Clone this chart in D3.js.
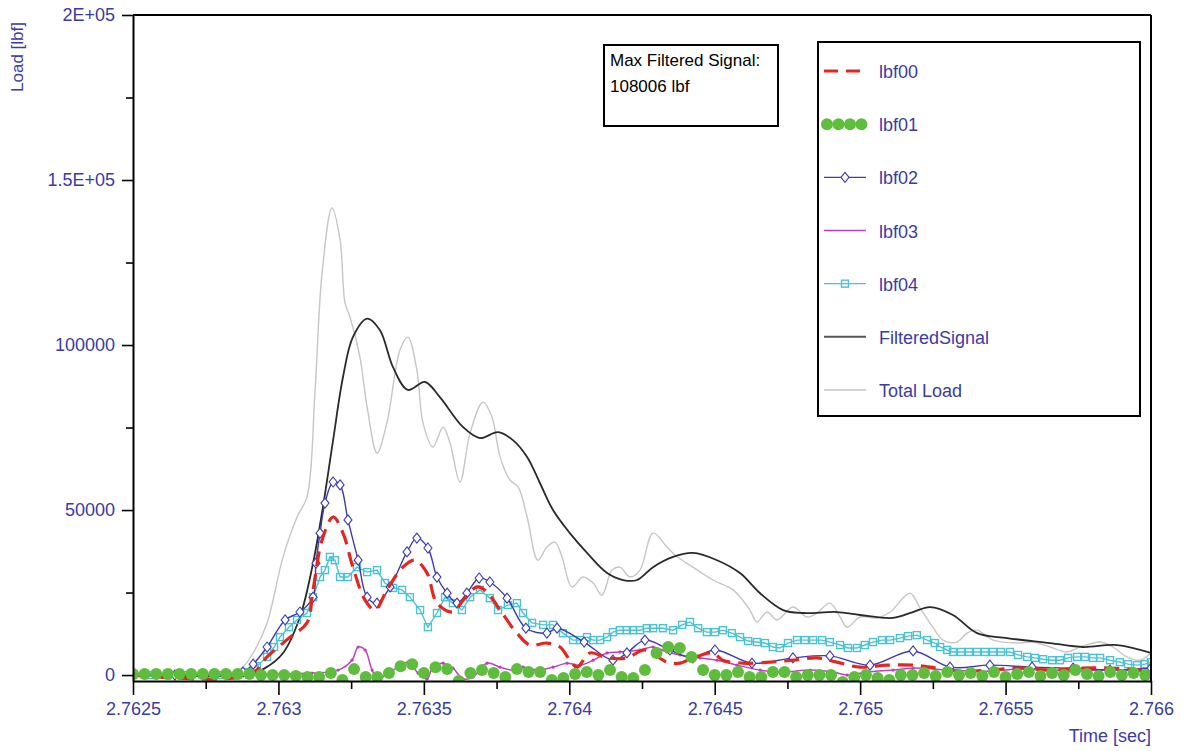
<!DOCTYPE html>
<html>
<head>
<meta charset="utf-8">
<script src="https://cdn.jsdelivr.net/npm/d3@7"></script>
<style>
body { margin: 0; background: #fff; }
svg { display: block; font-family: "Liberation Sans", Arial, sans-serif; }
</style>
</head>
<body>
<script>
// ---- data (time in sec, load in lbf) ----
var xTicks = [2.7625, 2.763, 2.7635, 2.764, 2.7645, 2.765, 2.7655, 2.766];
var xMinorTicks = [2.76275, 2.76325, 2.76375, 2.76425, 2.76475, 2.76525, 2.76575];
var yTicks = [0, 50000, 100000, 150000, 200000];
var yTickLabels = ["0", "50000", "100000", "1.5E+05", "2E+05"];
var yMinorTicks = [25000, 75000, 125000, 175000];

var seriesNames = ["lbf00", "lbf01", "lbf02", "lbf03", "lbf04", "FilteredSignal", "Total Load"];

var totalTime = [2.7625, 2.76280, 2.762844, 2.762878, 2.762919, 2.762961, 2.763016, 2.763064, 2.763098, 2.763126,
  2.763150, 2.763184, 2.763212, 2.763229, 2.763246, 2.763280, 2.763305, 2.763339, 2.763373, 2.763418,
  2.763445, 2.763476, 2.763497, 2.763531, 2.763566, 2.763590, 2.763624, 2.763659, 2.763703, 2.763734,
  2.763762, 2.763796, 2.763824, 2.763855, 2.763892, 2.763923, 2.763951, 2.763975, 2.764009, 2.764047,
  2.764082, 2.764112, 2.764147, 2.764174, 2.764209, 2.764243, 2.764288, 2.764336, 2.764363, 2.764425,
  2.764494, 2.764563, 2.764621, 2.764645, 2.764680, 2.764714, 2.764769, 2.764817, 2.764852, 2.764896,
  2.764931, 2.764955, 2.765000, 2.765058, 2.765103, 2.765171, 2.765206, 2.765250, 2.765285, 2.765333,
  2.765367, 2.765402, 2.765457, 2.765539, 2.765594, 2.765653, 2.765711, 2.765756, 2.765825, 2.765869,
  2.765917, 2.765962, 2.766];
var totalLoad = [0, 300, 900, 2400, 7600, 15800, 35800, 47900, 53900, 86400,
  121800, 141500, 131800, 112700, 108500, 96400, 81200, 67300, 76400, 98500,
  102400, 92400, 76400, 69100, 75100, 70300, 58500, 73300, 82700, 78200,
  66100, 59100, 57000, 47900, 34800, 38800, 40300, 35800, 26700, 29700,
  27900, 24200, 31800, 32700, 29700, 31800, 43000, 38800, 36400, 32700,
  28800, 25800, 19700, 16100, 19100, 16700, 20600, 17600, 18800, 21800,
  17600, 14500, 17600, 17300, 19100, 24800, 20300, 14500, 10600, 10000,
  12700, 13600, 10600, 9700, 10000, 8500, 7000, 8500, 10000, 8500,
  5500, 4500, 6700];

var filteredTime = [2.7625, 2.762902, 2.762954, 2.763016, 2.763074, 2.763119, 2.763153, 2.763188, 2.763222, 2.763256,
  2.763305, 2.763349, 2.763394, 2.763445, 2.763504, 2.763555, 2.763635, 2.763693, 2.763755, 2.763806,
  2.763855, 2.763899, 2.763944, 2.764002, 2.764061, 2.764130, 2.764185, 2.764233, 2.764288, 2.764357,
  2.764425, 2.764508, 2.764587, 2.764656, 2.764735, 2.764804, 2.764920, 2.765000, 2.765113, 2.765182,
  2.765240, 2.765319, 2.765402, 2.765505, 2.765653, 2.765766, 2.765883, 2.766];
var filteredSignal = [0, 300, 2100, 6700, 17600, 33900, 50900, 71200, 90300, 102400,
  108000, 104500, 93300, 86400, 88800, 84200, 75100, 71800, 73600, 71200,
  66100, 58200, 50000, 43000, 37000, 30900, 28800, 28800, 32700, 35800,
  37000, 34800, 30900, 24800, 19700, 18800, 19100, 18200, 17300, 19100,
  20600, 18200, 12700, 11200, 9700, 8500, 9100, 6700];

var lbf00Time = [2.7625, 2.762902, 2.762961, 2.763040, 2.763098, 2.763119, 2.763150, 2.763188, 2.763222, 2.763256,
  2.763298, 2.763332, 2.763373, 2.763428, 2.763470, 2.763511, 2.763545, 2.763600, 2.763635, 2.763683,
  2.763717, 2.763762, 2.763820, 2.763865, 2.763923, 2.763968, 2.764002, 2.764027, 2.764071, 2.764130,
  2.764198, 2.764260, 2.764336, 2.764381, 2.764425, 2.764494, 2.764528, 2.764597, 2.764690, 2.764769,
  2.764852, 2.764920, 2.765000, 2.765092, 2.765182, 2.765240, 2.765343, 2.765446, 2.765549, 2.765653,
  2.765756, 2.765859, 2.766];
var lbf00 = [0, 0, 5500, 11500, 15800, 25800, 40900, 47900, 43000, 32700,
  22700, 19700, 25800, 32700, 34800, 30900, 21800, 19100, 22700, 26700,
  25200, 19700, 12700, 9100, 9700, 8500, 4500, 2400, 6700, 5200,
  5200, 7600, 3900, 3600, 5200, 6700, 4500, 3600, 3900, 4500,
  5200, 3900, 2400, 3000, 3000, 2400, 1200, 1500, 2100, 1500,
  2100, 2100, 1200];

var lbf01Time = [2.76250, 2.76254, 2.76258, 2.76262, 2.76266, 2.76270, 2.76274, 2.76278, 2.76282, 2.76286,
  2.76290, 2.76294, 2.76298, 2.76302, 2.76306, 2.76310, 2.76314, 2.76318, 2.76322, 2.76326,
  2.76330, 2.76334, 2.76338, 2.76342, 2.76346, 2.76350, 2.76354, 2.76358, 2.76362, 2.76366,
  2.76370, 2.76374, 2.76378, 2.76382, 2.76386, 2.76390, 2.76394, 2.76398, 2.76402, 2.76406,
  2.76410, 2.76414, 2.76418, 2.76422, 2.76426, 2.76430, 2.76434, 2.76438, 2.76442, 2.76446,
  2.76450, 2.76454, 2.76458, 2.76462, 2.76466, 2.76470, 2.76474, 2.76478, 2.76482, 2.76486,
  2.76490, 2.76494, 2.76498, 2.76502, 2.76506, 2.76510, 2.76514, 2.76518, 2.76522, 2.76526,
  2.76530, 2.76534, 2.76538, 2.76542, 2.76546, 2.76550, 2.76554, 2.76558, 2.76562, 2.76566,
  2.76570, 2.76574, 2.76578, 2.76582, 2.76586, 2.76590, 2.76594, 2.76598];
var lbf01 = [300, 300, 300, 300, 300, 300, 300, 300, 300, 300,
  300, 0, 0, 0, -300, -600, -600, 600, -1500, 1800,
  -600, -600, 600, 2700, 3300, 600, 2400, 1800, -1800, 600,
  1500, 600, -600, 1800, 900, 900, -1500, -900, 300, 900,
  0, 1500, -600, -900, 1500, 6700, 8500, 8200, 5500, 1500,
  0, 0, 900, -600, -600, 900, 900, -600, 0, 0,
  0, -2100, -600, 0, -900, -1500, 0, 0, 600, -300,
  900, 0, 600, -300, 900, -600, 300, 900, -300, 600,
  0, 1500, 300, -300, 900, 0, 600, 0];

var lbf02Time = [2.7625, 2.762644, 2.762782, 2.762878, 2.762913, 2.762961, 2.763023, 2.763074, 2.763119, 2.763129,
  2.763143, 2.763160, 2.763188, 2.763212, 2.763239, 2.763274, 2.763305, 2.763339, 2.763384, 2.763442,
  2.763476, 2.763514, 2.763545, 2.763580, 2.763614, 2.763648, 2.763690, 2.763727, 2.763786, 2.763851,
  2.763923, 2.763958, 2.764051, 2.764150, 2.764198, 2.764260, 2.764346, 2.764425, 2.764501, 2.764628,
  2.764769, 2.764896, 2.765034, 2.765182, 2.765309, 2.765446, 2.765591, 2.765732, 2.765859, 2.766];
var lbf02 = [0, 0, 0, 900, 3300, 8500, 16700, 19100, 23600, 33900,
  43000, 52100, 58500, 57600, 47000, 34800, 23600, 21800, 26700, 37300,
  41500, 38500, 29700, 24800, 21800, 24800, 29400, 28200, 23300, 14200,
  12700, 14200, 10000, 4500, 6700, 10600, 7600, 5200, 7600, 3600,
  5200, 5800, 3000, 7300, 2400, 3000, 2400, 2100, 1500, 2100];

var lbf03Time = [2.7625, 2.762902, 2.763115, 2.763205, 2.763253, 2.763274, 2.763298, 2.763322, 2.763342, 2.763377,
  2.763411, 2.763445, 2.763480, 2.763511, 2.763531, 2.763566, 2.763600, 2.763635, 2.763669, 2.763717,
  2.763762, 2.763806, 2.763841, 2.763889, 2.763944, 2.763992, 2.764037, 2.764082, 2.764130, 2.764174,
  2.764243, 2.764288, 2.764336, 2.764381, 2.764449, 2.764508, 2.764577, 2.764656, 2.764735, 2.764828,
  2.764907, 2.764955, 2.765024, 2.765113, 2.765182, 2.765309, 2.765446, 2.765584, 2.765722, 2.765859,
  2.766];
var lbf03 = [300, 300, 600, 1500, 4500, 8500, 7600, 1500, -1200, 600,
  2400, 3900, 600, -1200, 2400, 3600, 2100, -1200, -600, 3600,
  2400, 1500, 2400, 1500, 2400, 3600, 3000, 4500, 6700, 7000,
  7600, 8500, 7000, 6100, 5200, 4500, 3000, 1500, 900, 1500,
  900, 0, 900, 1500, 2100, 1500, 1200, 2100, 1200, 1500,
  900];

var lbf04Time = [2.7625, 2.76256, 2.76262, 2.76268, 2.76274, 2.76280, 2.76286, 2.762895, 2.762926, 2.762961,
  2.762985, 2.763005, 2.763036, 2.763064, 2.763098, 2.763119, 2.763143, 2.763160, 2.763177, 2.763194,
  2.763212, 2.763239, 2.763270, 2.763305, 2.763339, 2.763366, 2.763394, 2.763425, 2.763452, 2.763487,
  2.763514, 2.763545, 2.763573, 2.763600, 2.763631, 2.763659, 2.763693, 2.763727, 2.763755, 2.763789,
  2.763820, 2.763841, 2.763872, 2.763910, 2.763944, 2.763978,
  2.764013, 2.764037, 2.764061, 2.764082, 2.764106, 2.764130, 2.764150, 2.764174, 2.764198, 2.764219,
  2.764243, 2.764267, 2.764288,
  2.764322, 2.764357, 2.764388, 2.764415, 2.764443, 2.764473, 2.764501, 2.764528, 2.764559, 2.764587,
  2.764615, 2.764645, 2.764673, 2.764700, 2.764724, 2.764752, 2.764783, 2.764810, 2.764838, 2.764869,
  2.764896, 2.764931, 2.764958, 2.764989, 2.765016, 2.765044, 2.765075, 2.765103, 2.765137, 2.765165,
  2.765195,
  2.765230, 2.765257, 2.765275, 2.765299, 2.765319, 2.765347, 2.765374, 2.765402, 2.765429, 2.765457,
  2.765484, 2.765515, 2.765543, 2.765574, 2.765601, 2.765629, 2.765660, 2.765687, 2.765715, 2.765746,
  2.765773, 2.765801, 2.765825, 2.765859, 2.765893, 2.765921, 2.765952, 2.765979, 2.766];
var lbf04 = [0, 0, 0, 0, 0, 0, 0, 900, 2700, 5500,
  8500, 11500, 14500, 16700, 18800, 23600, 29700, 31800, 35800, 34800,
  29700, 29700, 32700, 31200, 31800, 27900, 26400, 25800, 23600, 19700,
  14500, 18800, 23600, 21800, 19700, 23600, 25800, 23300, 19700, 21200,
  21800, 18800, 15800, 15200, 15200, 12700,
  10600, 10600, 11500, 10600, 10600, 11500, 13000, 13600, 13600, 13600,
  13600, 14200, 14200,
  14200, 13600, 15200, 16100, 14200, 13000, 13000, 13600, 12700, 11500,
  10300, 10000, 9700, 8500, 8200, 9700, 10600, 10600, 10600, 10600,
  10000, 9100, 8200, 8200, 9100, 10000, 10600, 10600, 11200, 11800,
  12100,
  10600, 9700, 8500, 7600, 7000, 7000, 7000, 7000, 7000, 7000,
  7000, 7000, 6100, 5500, 5200, 4800, 4500, 4500, 5200, 5500,
  5500, 5200, 5200, 4500, 3900, 3300, 3000, 3300, 3900];

var maxFiltered = 108006;

// ---- layout ----
var W = 1187, H = 751;
var mLeft = 133, mRight = 1151, mTop = 15, mBottom = 681;
var blue = "#3b3ba6";

var colors = {
	lbf00: "#e5261f",
	lbf01: "#5fbd3e",
	lbf02: "#3c3cb4",
	lbf03: "#c23fc0",
	lbf04: "#4cc3d4",
	filtered: "#2a2a2a",
	total: "#c6c6c6"
};

function pts(ts, vs) {
	var n = Math.min(ts.length, vs.length);
	var out = [];
	for (var i = 0; i < n; i++) out.push({t: ts[i], v: vs[i]});
	return out;
}

var svg = d3.select("body").append("svg")
	.attr("width", W)
	.attr("height", H);

var x = d3.scaleLinear().domain([2.7625, 2.766]).range([mLeft, mRight]);
var y = d3.scaleLinear().domain([-1800, 200000]).range([mBottom, mTop]);

svg.append("clipPath").attr("id", "clip")
	.append("rect").attr("x", mLeft).attr("y", mTop)
	.attr("width", mRight - mLeft).attr("height", mBottom - mTop);

var plot = svg.append("g").attr("clip-path", "url(#clip)");

var smooth = d3.line()
	.x(function(d) { return x(d.t); })
	.y(function(d) { return y(d.v); })
	.curve(d3.curveCatmullRom.alpha(0.5));

var straight = d3.line()
	.x(function(d) { return x(d.t); })
	.y(function(d) { return y(d.v); });

// Total Load
plot.append("path").datum(pts(totalTime, totalLoad))
	.attr("d", smooth).attr("fill", "none")
	.attr("stroke", colors.total).attr("stroke-width", 1.4);

// FilteredSignal
plot.append("path").datum(pts(filteredTime, filteredSignal))
	.attr("d", smooth).attr("fill", "none")
	.attr("stroke", colors.filtered).attr("stroke-width", 1.8);

// lbf04 - squares
var d04 = pts(lbf04Time, lbf04);
plot.append("path").datum(d04)
	.attr("d", straight).attr("fill", "none")
	.attr("stroke", colors.lbf04).attr("stroke-width", 1.4);
plot.append("g").selectAll("rect").data(d04).enter().append("rect")
	.attr("x", function(d) { return x(d.t) - 3.5; })
	.attr("y", function(d) { return y(d.v) - 3.5; })
	.attr("width", 7).attr("height", 7)
	.attr("fill", "none").attr("stroke", colors.lbf04).attr("stroke-width", 1.4);

// lbf03
var d03 = pts(lbf03Time, lbf03);
plot.append("path").datum(d03)
	.attr("d", smooth).attr("fill", "none")
	.attr("stroke", colors.lbf03).attr("stroke-width", 1.5);
plot.append("g").selectAll("circle").data(d03).enter().append("circle")
	.attr("cx", function(d) { return x(d.t); })
	.attr("cy", function(d) { return y(d.v); })
	.attr("r", 1.6).attr("fill", colors.lbf03);

// lbf02 - diamonds
var d02 = pts(lbf02Time, lbf02);
plot.append("path").datum(d02)
	.attr("d", smooth).attr("fill", "none")
	.attr("stroke", colors.lbf02).attr("stroke-width", 1.4);
var diamond = "M0,-5L4,0L0,5L-4,0Z";
plot.append("g").selectAll("path").data(d02).enter().append("path")
	.attr("d", diamond)
	.attr("transform", function(d) { return "translate(" + x(d.t) + "," + y(d.v) + ")"; })
	.attr("fill", "#fff").attr("stroke", colors.lbf02).attr("stroke-width", 1.1);

// lbf00 - red dashed
plot.append("path").datum(pts(lbf00Time, lbf00))
	.attr("d", smooth).attr("fill", "none")
	.attr("stroke", colors.lbf00).attr("stroke-width", 3.2)
	.attr("stroke-dasharray", "15,8");

// lbf01 - green dots
plot.append("g").selectAll("circle").data(pts(lbf01Time, lbf01)).enter().append("circle")
	.attr("cx", function(d) { return x(d.t); })
	.attr("cy", function(d) { return y(d.v); })
	.attr("r", 6).attr("fill", colors.lbf01);

// ---- frame and axes ----
svg.append("line").attr("x1", mLeft).attr("x2", mRight).attr("y1", mTop).attr("y2", mTop)
	.attr("stroke", "#000").attr("stroke-width", 2);
svg.append("line").attr("x1", mRight).attr("x2", mRight).attr("y1", mTop).attr("y2", mBottom)
	.attr("stroke", "#000").attr("stroke-width", 2);

var xAxis = svg.append("g").attr("transform", "translate(0," + mBottom + ")")
	.call(d3.axisBottom(x).tickValues(xTicks).tickSize(14).tickSizeOuter(0).tickPadding(7)
		.tickFormat(function(d) { return String(d); }));
var xMinor = svg.append("g").attr("transform", "translate(0," + mBottom + ")")
	.call(d3.axisBottom(x).tickValues(xMinorTicks).tickSize(8).tickFormat(""));
xMinor.select(".domain").remove();

var yAxis = svg.append("g").attr("transform", "translate(" + mLeft + ",0)")
	.call(d3.axisLeft(y).tickValues(yTicks).tickSize(11).tickSizeOuter(0).tickPadding(7)
		.tickFormat(function(d, i) { return yTickLabels[i]; }));
var yMinor = svg.append("g").attr("transform", "translate(" + mLeft + ",0)")
	.call(d3.axisLeft(y).tickValues(yMinorTicks).tickSize(7).tickFormat(""));
yMinor.select(".domain").remove();

svg.selectAll(".domain").attr("stroke", "#000").attr("stroke-width", 2);
svg.selectAll(".tick line").attr("stroke", "#000").attr("stroke-width", 1.6);
svg.selectAll(".tick text")
	.attr("fill", blue)
	.style("font-size", "18px")
	.style("font-family", "'Liberation Sans', Arial, sans-serif");

svg.append("text")
	.attr("transform", "translate(23,57) rotate(-90)")
	.attr("text-anchor", "middle")
	.attr("fill", blue)
	.style("font-size", "17px")
	.text("Load [lbf]");

svg.append("text")
	.attr("x", mRight).attr("y", 742)
	.attr("text-anchor", "end")
	.attr("fill", blue)
	.style("font-size", "18px")
	.text("Time [sec]");

// ---- max box ----
svg.append("rect").attr("x", 604).attr("y", 45).attr("width", 174).attr("height", 81)
	.attr("fill", "#fff").attr("stroke", "#000").attr("stroke-width", 2);
svg.append("text").attr("x", 610).attr("y", 66).style("font-size", "17px")
	.text("Max Filtered Signal:");
svg.append("text").attr("x", 610).attr("y", 92).style("font-size", "17px")
	.text(maxFiltered + " lbf");

// ---- legend ----
var lg = svg.append("g");
lg.append("rect").attr("x", 818).attr("y", 42).attr("width", 322).attr("height", 374)
	.attr("fill", "#fff").attr("stroke", "#000").attr("stroke-width", 2);

var legendY = d3.scalePoint().domain(seriesNames).range([71, 390]);
var lx0 = 822, lx1 = 866;

seriesNames.forEach(function(name) {
	var yy = legendY(name);
	var g = lg.append("g");
	if (name === "lbf00") {
		g.append("line").attr("x1", lx0 + 2).attr("x2", lx1).attr("y1", yy).attr("y2", yy)
			.attr("stroke", colors.lbf00).attr("stroke-width", 3).attr("stroke-dasharray", "14,8");
	} else if (name === "lbf01") {
		[827, 838.5, 850, 861.5].forEach(function(cx) {
			g.append("circle").attr("cx", cx).attr("cy", yy).attr("r", 6).attr("fill", colors.lbf01);
		});
	} else if (name === "lbf02") {
		g.append("line").attr("x1", lx0 + 2).attr("x2", lx1).attr("y1", yy).attr("y2", yy)
			.attr("stroke", colors.lbf02).attr("stroke-width", 1.4);
		g.append("path").attr("d", diamond).attr("transform", "translate(" + ((lx0 + lx1) / 2 + 1) + "," + yy + ")")
			.attr("fill", "#fff").attr("stroke", colors.lbf02).attr("stroke-width", 1.1);
	} else if (name === "lbf03") {
		g.append("line").attr("x1", lx0 + 2).attr("x2", lx1).attr("y1", yy).attr("y2", yy)
			.attr("stroke", colors.lbf03).attr("stroke-width", 1.6);
	} else if (name === "lbf04") {
		g.append("line").attr("x1", lx0 + 2).attr("x2", lx1).attr("y1", yy).attr("y2", yy)
			.attr("stroke", colors.lbf04).attr("stroke-width", 1.4);
		g.append("rect").attr("x", (lx0 + lx1) / 2 - 2.5).attr("y", yy - 3.5).attr("width", 7).attr("height", 7)
			.attr("fill", "none").attr("stroke", colors.lbf04).attr("stroke-width", 1.4);
	} else if (name === "FilteredSignal") {
		g.append("line").attr("x1", lx0 + 2).attr("x2", lx1).attr("y1", yy).attr("y2", yy)
			.attr("stroke", "#555").attr("stroke-width", 2);
	} else {
		g.append("line").attr("x1", lx0 + 2).attr("x2", lx1).attr("y1", yy).attr("y2", yy)
			.attr("stroke", colors.total).attr("stroke-width", 1.5);
	}
	g.append("text").attr("x", 879).attr("y", yy + 7)
		.attr("fill", blue).style("font-size", "18px")
		.text(name);
});
</script>
</body>
</html>
